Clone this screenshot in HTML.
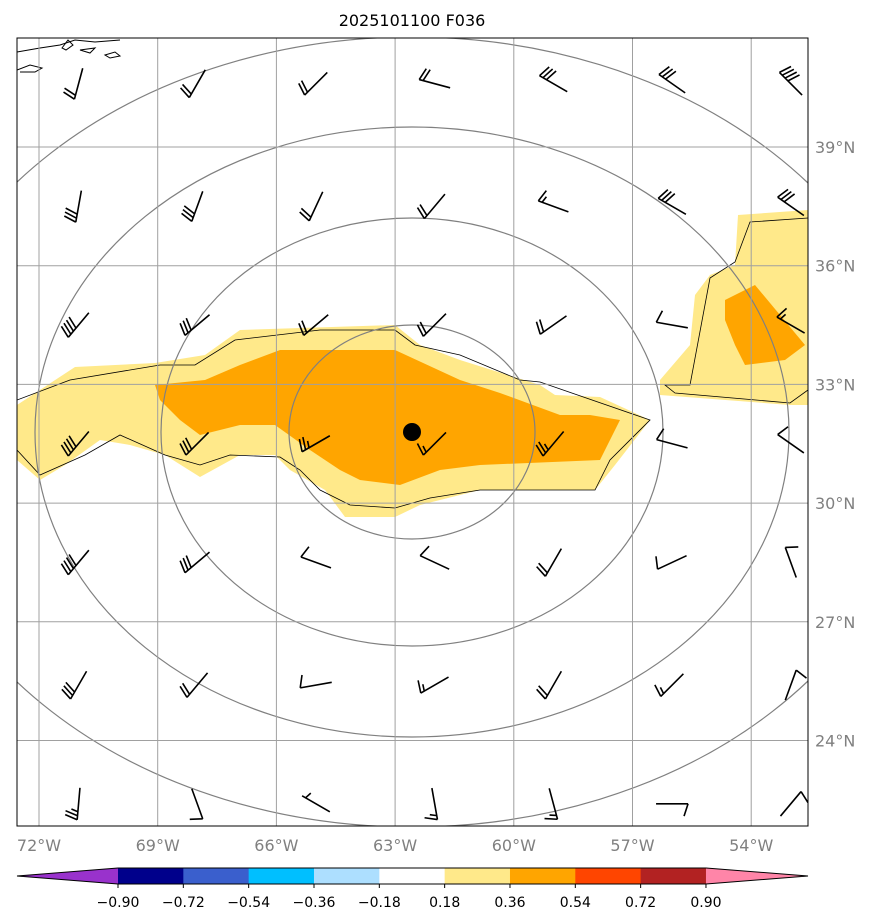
<!DOCTYPE html>
<html><head><meta charset="utf-8"><style>
body{margin:0;background:#fff;width:878px;height:924px;overflow:hidden;font-family:"DejaVu Sans","Liberation Sans",sans-serif}
svg{display:block}
</style></head><body>
<svg width="878" height="924">
<text x="412" y="26" font-size="16" text-anchor="middle">2025101100 F036</text>
<defs><clipPath id="mapclip"><rect x="17" y="38" width="791" height="788"/></clipPath></defs>
<g clip-path="url(#mapclip)">
<polygon fill="#FFE98A" points="17,405 75,367 155,363 205,355 240,330 395,325 420,345 460,360 540,385 555,395 600,397 650,420 615,465 595,490 480,490 420,505 395,517 345,517 325,490 290,470 275,455 240,455 200,477 165,455 130,445 100,440 65,465 40,480 17,460"/>
<polygon fill="#FFA500" points="155,385 205,380 240,365 280,350 395,350 460,380 500,393 560,415 590,415 620,420 600,460 480,465 440,470 400,485 360,480 340,470 310,450 275,425 240,425 200,435 180,420 160,400"/>
<polygon fill="#FFE98A" points="738,215 808,210 808,405 790,405 660,395 660,380 690,345 695,295 710,275 735,265"/>
<polygon fill="#FFA500" points="725,300 755,285 805,345 785,360 745,365 735,345 725,320"/>
<polyline fill="none" stroke="#000" stroke-width="0.8" points="17,400 70,380 160,365 195,365 235,340 320,330 395,330 415,345 460,355 520,380 540,382 650,420 610,460 595,490 555,490 480,490 430,498 395,508 350,505 320,490 300,470 280,457 230,455 200,465 165,455 120,435 85,455 40,475 17,450"/>
<polyline fill="none" stroke="#000" stroke-width="0.8" points="808,218 750,222 735,262 710,278 690,385 665,385 675,393 790,403 808,390"/>
<g fill="none" stroke="#000" stroke-width="1">
<path d="M17,52 L40,48 L60,45 L75,40 L95,42 L120,40"/>
<path d="M17,70 L30,65 L42,68 L35,72 L20,72"/>
<path d="M62,48 L68,40 L73,45 L66,50 Z"/>
<path d="M105,55 L115,52 L120,56 L110,58 Z"/>
<path d="M80,50 L95,48 L90,53 Z"/>
</g>
<g fill="none" stroke="#808080" stroke-width="1.2">
<ellipse cx="412" cy="432" rx="123" ry="107"/>
<ellipse cx="412" cy="432" rx="251" ry="214"/>
<ellipse cx="412" cy="432" rx="377" ry="305"/>
<ellipse cx="412" cy="432" rx="510" ry="395"/>
</g>
<g id="grid" stroke="#a0a0a0" stroke-width="1"></g>
<g id="barbs" stroke="#000" stroke-width="1.6" fill="none"></g>
<circle cx="412" cy="432" r="9" fill="#000"/>
</g>
<rect x="17" y="38" width="791" height="788" fill="none" stroke="#000" stroke-width="1"/>
<g id="ticks" font-size="16" fill="#808080"></g>
<g id="cbar"></g>
</svg>
<script>
const NS='http://www.w3.org/2000/svg';
const lonTicks=[-72,-69,-66,-63,-60,-57,-54];
const latTicks=[39,36,33,30,27,24];
const cbarLevels=[-0.90,-0.72,-0.54,-0.36,-0.18,0.18,0.36,0.54,0.72,0.90];
const cbarColors=['#9932CC','#00008B','#3A5FCD','#00BFFF','#ADDFFF','#FFFFFF','#FFE98A','#FFA500','#FF4500','#B22222','#FF85A8'];
const barbLons=[-71,-68,-65,-62,-59,-56,-53];
const barbLats=[40.6,37.5,34.5,31.5,28.5,25.4,22.4];
const barbDir=[
[195,210,225,285,300,305,315],
[190,200,205,220,290,300,305],
[220,230,230,225,235,280,300],
[220,225,240,225,220,285,305],
[220,230,290,295,210,245,340],
[210,220,260,240,210,225,20],
[185,160,300,170,165,90,40]];
const barbSpeed=[
[20,20,20,20,30,30,40],
[30,30,20,20,15,30,30],
[40,30,20,20,20,10,15],
[40,30,25,15,25,10,10],
[40,30,10,10,20,10,10],
[30,20,10,15,20,15,10],
[25,10,5,15,15,10,10]];
const xs=l=>39+(l+72)*118.7/3;
const ys=l=>147+(39-l)*118.7/3;
function mk(t,a,p){const e=document.createElementNS(NS,t);for(const k in a)e.setAttribute(k,a[k]);p.appendChild(e);return e;}
const grid=document.getElementById('grid'),ticks=document.getElementById('ticks');
lonTicks.forEach(l=>{
 const ln=mk('line',{x1:xs(l),x2:xs(l),y1:38,y2:826},grid);
 
 
 const t=mk('text',{x:xs(l),y:851,'text-anchor':'middle'},ticks);t.textContent=(-l)+'°W';
 
 
});
latTicks.forEach(l=>{
 const ln=mk('line',{x1:17,x2:808,y1:ys(l),y2:ys(l)},grid);
 
 
 const t=mk('text',{x:815,y:ys(l)+6},ticks);t.textContent=l+'°N';
 
 
});
const barbs=document.getElementById('barbs');
barbLats.forEach((la,i)=>barbLons.forEach((lo,j)=>{
 const cx=xs(lo),cy=ys(la),a=barbDir[i][j]*Math.PI/180,s=barbSpeed[i][j];
 const dx=Math.sin(a),dy=-Math.cos(a),L=32;
 const x0=cx-dx*L/2,y0=cy-dy*L/2,x1=cx+dx*L/2,y1=cy+dy*L/2;
 let d=`M${x0},${y0}L${x1},${y1}`;
 const fa=a+Math.PI*0.6,fx=Math.sin(fa),fy=-Math.cos(fa);
 let n=Math.floor(s/10),half=(s%10)>=5,k=0;
 for(;k<n;k++){const bx=x1-dx*k*4,by=y1-dy*k*4;d+=`M${bx},${by}l${fx*13},${fy*13}`;}
 if(half){const kk=n===0?1:k;const bx=x1-dx*kk*4,by=y1-dy*kk*4;d+=`M${bx},${by}l${fx*7},${fy*7}`;}
 const p=mk('path',{d:d},barbs);
 
 
}));
const cb=document.getElementById('cbar');
const cw=65.33,cy=868,ch=16;
cbarColors.forEach((c,i)=>{
 let el;
 if(i===0) el=mk('polygon',{points:`17,${cy+ch/2} 118,${cy} 118,${cy+ch}`,fill:c},cb);
 else if(i===cbarColors.length-1) el=mk('polygon',{points:`${118+cw*9},${cy} 808,${cy+ch/2} ${118+cw*9},${cy+ch}`,fill:c},cb);
 else el=mk('rect',{x:118+cw*(i-1),y:cy,width:cw+0.5,height:ch,fill:c},cb);
 
 
});
const o=mk('polygon',{points:`17,${cy+ch/2} 118,${cy} 706,${cy} 808,${cy+ch/2} 706,${cy+ch} 118,${cy+ch}`,fill:'none',stroke:'#000','stroke-width':1},cb);


cbarLevels.forEach((v,i)=>{
 const x=118+cw*i;
 const tk=mk('line',{x1:x,x2:x,y1:cy+ch,y2:cy+ch+4,stroke:'#000'},cb);
 
 
 const t=mk('text',{x:x,y:907,'text-anchor':'middle','font-size':14},cb);
 t.textContent=(v<0?'\u2212':'')+Math.abs(v).toFixed(2);
 
 
});
</script>
</body></html>
